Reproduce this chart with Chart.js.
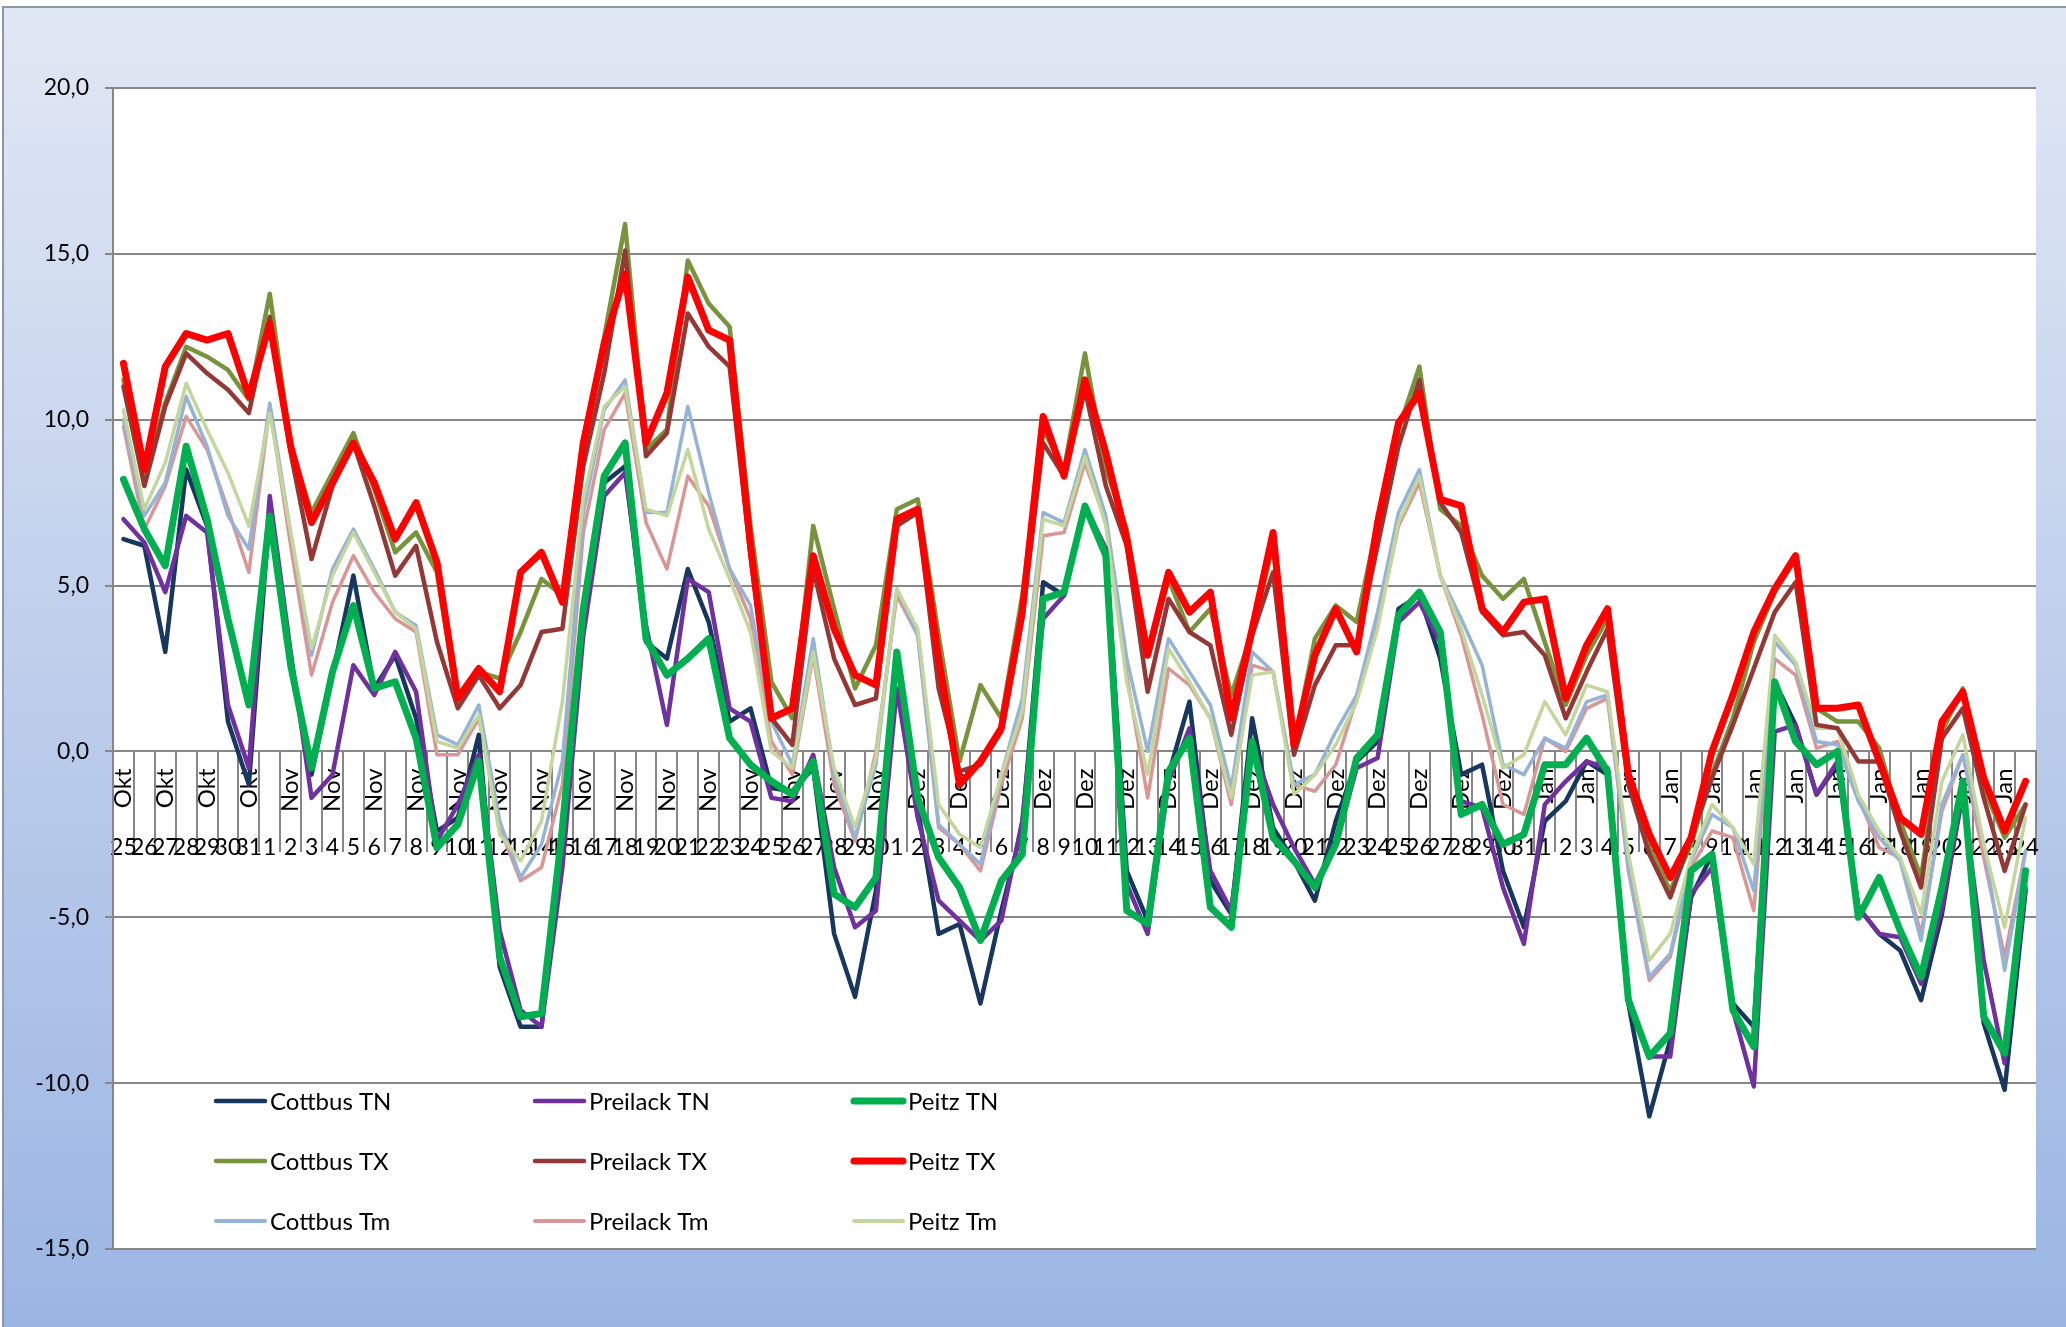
<!DOCTYPE html>
<html>
<head>
<meta charset="utf-8">
<script src="https://cdn.jsdelivr.net/npm/chart.js@4.4.1/dist/chart.umd.min.js"></script>
<style>
  html, body { margin: 0; padding: 0; background: #fff; }
  canvas { display: block; }
</style>
</head>
<body>
<canvas id="chart" width="2066" height="1327"></canvas>
<script>
// categories: day number and month of each reading (25 Okt .. 24 Jan)
const days = [
  '25', '26', '27', '28', '29', '30', '31',
  '1', '2', '3', '4', '5', '6', '7', '8', '9', '10', '11', '12', '13', '14', '15',
  '16', '17', '18', '19', '20', '21', '22', '23', '24', '25', '26', '27', '28', '29', '30',
  '1', '2', '3', '4', '5', '6', '7', '8', '9', '10', '11', '12', '13', '14', '15', '16',
  '17', '18', '19', '20', '21', '22', '23', '24', '25', '26', '27', '28', '29', '30', '31',
  '1', '2', '3', '4', '5', '6', '7', '8', '9', '10', '11', '12', '13', '14', '15', '16',
  '17', '18', '19', '20', '21', '22', '23', '24'
];
const months = [
  'Okt', 'Okt', 'Okt', 'Okt', 'Okt', 'Okt', 'Okt',
  'Nov', 'Nov', 'Nov', 'Nov', 'Nov', 'Nov', 'Nov', 'Nov', 'Nov', 'Nov', 'Nov', 'Nov', 'Nov', 'Nov', 'Nov',
  'Nov', 'Nov', 'Nov', 'Nov', 'Nov', 'Nov', 'Nov', 'Nov', 'Nov', 'Nov', 'Nov', 'Nov', 'Nov', 'Nov', 'Nov',
  'Dez', 'Dez', 'Dez', 'Dez', 'Dez', 'Dez', 'Dez', 'Dez', 'Dez', 'Dez', 'Dez', 'Dez', 'Dez', 'Dez', 'Dez', 'Dez',
  'Dez', 'Dez', 'Dez', 'Dez', 'Dez', 'Dez', 'Dez', 'Dez', 'Dez', 'Dez', 'Dez', 'Dez', 'Dez', 'Dez', 'Dez',
  'Jan', 'Jan', 'Jan', 'Jan', 'Jan', 'Jan', 'Jan', 'Jan', 'Jan', 'Jan', 'Jan', 'Jan', 'Jan', 'Jan', 'Jan', 'Jan',
  'Jan', 'Jan', 'Jan', 'Jan', 'Jan', 'Jan', 'Jan', 'Jan'
];

const yTicks = { min: -15, max: 20, step: 5 };

// minimum temperatures
const cottbusTN = [6.4, 6.2, 3.0, 8.5, 6.8, 0.9, -1.0, 7.3, 2.8, -0.7, 2.3, 5.3,
  1.9, 2.9, 1.0, -2.4, -2.0, 0.5, -6.5, -8.3, -8.3, -2.6, 4.0,
  8.1, 8.6, 3.3, 2.8, 5.5, 3.9, 0.9, 1.3, -1.1, -1.2, -0.5, -5.5,
  -7.4, -4.2, 2.8, -1.7, -5.5, -5.2, -7.6, -4.8, -2.3, 5.1, 4.7,
  7.4, 6.1, -3.6, -5.1, -0.7, 1.5, -3.9, -4.9, 1.0, -2.3, -3.3, -4.5,
  -2.1, -0.3, 0.3, 4.3, 4.7, 2.8, -0.7, -0.4, -3.6, -5.3, -2.1,
  -1.5, -0.3, -0.7, -7.6, -11.0, -8.7, -4.4, -3.1, -7.6, -8.3, 2.1, 0.8,
  -1.3, -0.4, -4.7, -5.5, -6.0, -7.5, -4.9, -1.1, -8.2, -10.2, -4.2];
const preilackTN = [7.0, 6.3, 4.8, 7.1, 6.6, 1.4, -0.5, 7.7, 3.0, -1.4, -0.7, 2.6,
  1.7, 3.0, 1.8, -2.7, -1.6, -0.1, -5.4, -7.8, -8.3, -3.5, 3.5,
  7.7, 8.4, 3.8, 0.8, 5.2, 4.8, 1.3, 0.9, -1.4, -1.5, -0.1, -3.5,
  -5.3, -4.8, 1.9, -2.0, -4.5, -5.1, -5.7, -5.1, -2.1, 4.0, 4.7,
  7.4, 6.1, -4.0, -5.5, -0.9, 0.7, -3.6, -4.8, 0.2, -1.6, -2.9, -4.0,
  -2.8, -0.5, -0.2, 3.9, 4.5, 3.3, -1.5, -1.7, -4.1, -5.8, -1.6,
  -0.9, -0.3, -0.5, -7.4, -9.2, -9.2, -4.3, -3.5, -7.8, -10.1, 0.6, 0.8,
  -1.3, -0.3, -4.7, -5.5, -5.6, -7.0, -4.7, -1.3, -6.3, -9.4, -4.1];
const peitzTN = [8.2, 6.7, 5.6, 9.2, 7.0, 4.0, 1.4, 7.1, 2.6, -0.5, 2.4, 4.4,
  1.9, 2.1, 0.4, -2.9, -2.2, -0.3, -6.2, -8.0, -7.9, -2.3, 4.3,
  8.3, 9.3, 3.4, 2.3, 2.8, 3.4, 0.4, -0.4, -0.9, -1.3, -0.3, -4.3,
  -4.7, -3.8, 3.0, -1.4, -3.2, -4.1, -5.7, -3.9, -3.1, 4.6, 4.8,
  7.4, 5.9, -4.8, -5.2, -0.6, 0.4, -4.7, -5.3, 0.3, -2.6, -3.3, -4.1,
  -2.8, -0.2, 0.5, 4.1, 4.8, 3.6, -1.9, -1.6, -2.8, -2.5, -0.4,
  -0.4, 0.4, -0.6, -7.5, -9.2, -8.5, -3.6, -3.1, -7.8, -8.9, 2.1, 0.3,
  -0.4, 0.0, -5.0, -3.8, -5.4, -6.8, -4.1, -0.9, -8.0, -9.1, -3.6];

// maximum temperatures
const cottbusTX = [11.2, 8.2, 10.5, 12.2, 11.9, 11.5, 10.6, 13.8, 9.2, 7.2, 8.4, 9.6,
  7.9, 6.0, 6.6, 5.4, 1.4, 2.4, 2.2, 3.6, 5.2, 4.7, 9.0,
  12.5, 15.9, 9.1, 9.7, 14.8, 13.5, 12.8, 6.8, 2.1, 1.0, 6.8, 4.3,
  1.9, 3.2, 7.3, 7.6, 3.5, -0.3, 2.0, 1.0, 4.7, 9.7, 8.5,
  12.0, 8.5, 6.7, 2.9, 5.2, 3.6, 4.3, 1.7, 3.6, 6.2, 0.2, 3.4,
  4.4, 3.9, 6.9, 9.7, 11.6, 7.3, 6.8, 5.3, 4.6, 5.2, 3.3,
  1.4, 2.9, 4.0, -0.9, -2.9, -4.2, -2.8, -0.7, 1.0, 3.3, 4.8, 5.8,
  1.3, 0.9, 0.9, 0.1, -2.1, -3.8, 0.6, 1.9, -1.1, -2.6, -1.6];
const preilackTX = [11.0, 8.0, 10.4, 12.0, 11.4, 10.9, 10.2, 13.1, 9.0, 5.8, 8.0, 9.3,
  7.4, 5.3, 6.2, 3.3, 1.3, 2.3, 1.3, 2.0, 3.6, 3.7, 8.6,
  11.4, 15.1, 8.9, 9.6, 13.2, 12.2, 11.6, 5.9, 1.0, 0.2, 5.5, 2.8,
  1.4, 1.6, 6.8, 7.2, 1.9, -0.6, -0.4, 0.6, 4.0, 9.3, 8.3,
  10.9, 8.0, 6.2, 1.8, 4.6, 3.6, 3.2, 0.5, 3.5, 5.4, -0.1, 2.0,
  3.2, 3.2, 6.2, 9.2, 11.2, 7.5, 6.6, 4.2, 3.5, 3.6, 2.9,
  1.0, 2.4, 3.7, -1.0, -3.1, -4.4, -2.6, -0.8, 0.8, 2.5, 4.2, 5.1,
  0.8, 0.7, -0.3, -0.3, -2.4, -4.1, 0.4, 1.3, -1.4, -3.6, -1.6];
const peitzTX = [11.7, 8.5, 11.6, 12.6, 12.4, 12.6, 10.7, 12.9, 9.2, 6.9, 8.1, 9.3,
  8.1, 6.4, 7.5, 5.7, 1.6, 2.5, 1.8, 5.4, 6.0, 4.5, 9.3,
  12.3, 14.4, 9.3, 10.8, 14.3, 12.7, 12.4, 6.2, 1.0, 1.3, 5.9, 3.7,
  2.3, 2.0, 7.0, 7.3, 2.8, -1.0, -0.3, 0.7, 4.2, 10.1, 8.3,
  11.2, 9.0, 6.4, 2.9, 5.4, 4.2, 4.8, 1.0, 3.7, 6.6, 0.2, 2.9,
  4.3, 3.0, 6.9, 9.9, 10.8, 7.6, 7.4, 4.3, 3.6, 4.5, 4.6,
  1.6, 3.2, 4.3, -0.7, -2.5, -3.8, -2.6, 0.0, 1.7, 3.6, 4.9, 5.9,
  1.3, 1.3, 1.4, -0.3, -2.0, -2.5, 0.9, 1.8, -0.8, -2.4, -0.9];

// daily means
const cottbusTm = [10.0, 7.1, 8.1, 10.7, 9.2, 7.1, 6.1, 10.5, 6.6, 2.9, 5.5, 6.7,
  5.5, 4.2, 3.8, 0.5, 0.2, 1.4, -2.1, -3.8, -2.8, -0.3, 7.2,
  10.3, 11.2, 7.2, 7.2, 10.4, 7.8, 5.5, 4.4, 0.9, -0.4, 3.4, -0.7,
  -2.6, -0.4, 4.9, 3.5, -2.2, -2.8, -3.4, -0.7, 1.6, 7.2, 6.9,
  9.1, 7.1, 2.8, 0.0, 3.4, 2.4, 1.4, -1.1, 3.0, 2.4, -1.0, -0.7,
  0.6, 1.7, 4.2, 7.2, 8.5, 5.3, 4.0, 2.6, -0.4, -0.7, 0.4,
  0.1, 1.5, 1.7, -3.5, -6.8, -6.1, -3.3, -1.9, -2.3, -4.2, 3.3, 2.6,
  0.3, 0.2, -1.5, -2.6, -3.3, -5.7, -1.6, -0.1, -2.8, -6.6, -3.0];
const preilackTm = [9.8, 6.7, 8.0, 10.1, 9.1, 7.3, 5.4, 10.4, 6.2, 2.3, 4.5, 5.9,
  4.8, 4.0, 3.6, -0.1, -0.1, 1.0, -2.3, -3.9, -3.5, -1.0, 6.6,
  9.7, 10.8, 6.9, 5.5, 8.3, 7.4, 5.5, 4.0, 0.3, -0.7, 2.9, -1.0,
  -2.7, 0.0, 4.7, 3.5, -2.3, -2.8, -3.6, -1.0, 1.0, 6.5, 6.6,
  8.7, 6.9, 2.3, -1.4, 2.5, 2.0, 1.0, -1.6, 2.6, 2.4, -1.0, -1.2,
  -0.4, 1.6, 3.8, 6.8, 8.1, 5.3, 3.5, 1.1, -1.6, -1.9, 0.4,
  0.0, 1.3, 1.6, -3.6, -6.9, -6.2, -3.5, -2.4, -2.6, -4.8, 2.8, 2.3,
  0.1, 0.3, -1.4, -2.9, -3.2, -5.5, -1.8, -0.1, -3.2, -6.2, -3.0];
const peitzTm = [10.3, 7.3, 8.7, 11.1, 9.7, 8.4, 6.8, 10.2, 6.6, 3.1, 5.3, 6.6,
  5.4, 4.2, 3.7, 0.3, 0.1, 1.1, -2.5, -3.3, -2.1, 1.5, 7.6,
  10.4, 11.0, 7.3, 7.1, 9.1, 6.7, 5.2, 3.6, 0.0, -0.5, 3.0, -0.5,
  -2.3, -0.2, 4.9, 3.7, -1.6, -2.5, -2.9, -0.7, 1.2, 7.0, 6.8,
  8.9, 6.8, 2.1, -0.7, 3.1, 2.1, 1.0, -1.4, 2.3, 2.4, -1.3, -0.7,
  0.2, 1.5, 3.7, 6.9, 8.3, 5.3, 3.7, 1.7, -0.5, -0.1, 1.5,
  0.5, 2.0, 1.8, -3.1, -6.3, -5.5, -3.2, -1.6, -2.3, -3.4, 3.5, 2.7,
  0.7, 0.7, -1.3, -2.4, -3.2, -4.9, -0.9, 0.5, -2.8, -5.3, -2.0];

const FONT = 'Lato, "Open Sans", sans-serif';
const GRID = '#878787';

function series(label, data, color, width, order) {
  return {
    label,
    data,
    borderColor: color,
    backgroundColor: color,
    borderWidth: width,
    order,
    fill: false,
    tension: 0,
    pointRadius: 0,
    pointHoverRadius: 0,
    borderJoinStyle: 'round',
    borderCapStyle: 'round'
  };
}

// axes sitting on the zero line should not take any room in the layout
function flattenAxis(scale) {
  scale.height = 0;
  scale.paddingLeft = 0;
  scale.paddingRight = 0;
}

// page background, outer frame and white plot area
const backgroundPlugin = {
  id: 'frameBackground',
  beforeDraw(chart) {
    const { ctx, chartArea, width, height } = chart;
    ctx.save();
    ctx.fillStyle = '#ffffff';
    ctx.fillRect(0, 0, width, height);
    const grad = ctx.createLinearGradient(0, 7, 0, height);
    grad.addColorStop(0, '#e1e8f4');
    grad.addColorStop(1, '#9bb5e3');
    ctx.fillStyle = grad;
    ctx.fillRect(3, 7, width - 3, height - 7);
    ctx.strokeStyle = '#8c96a8';
    ctx.lineWidth = 2;
    ctx.beginPath();
    ctx.moveTo(3, height);
    ctx.lineTo(3, 7);
    ctx.lineTo(width, 7);
    ctx.stroke();
    ctx.fillStyle = '#ffffff';
    ctx.fillRect(chartArea.left, chartArea.top, chartArea.right - chartArea.left, chartArea.bottom - chartArea.top);
    ctx.restore();
  }
};

// 3 x 3 legend inside the bottom of the plot
const gridLegendPlugin = {
  id: 'gridLegend',
  afterDraw(chart) {
    const { ctx, chartArea } = chart;
    const datasets = chart.data.datasets;
    const colX = [chartArea.left + 157, chartArea.left + 476, chartArea.left + 795];
    const rowY = [chartArea.bottom - 148, chartArea.bottom - 88, chartArea.bottom - 28];
    ctx.save();
    ctx.font = `24px ${FONT}`;
    ctx.textBaseline = 'middle';
    ctx.textAlign = 'left';
    datasets.forEach((ds, index) => {
      const x = colX[index % 3];
      const y = rowY[Math.floor(index / 3)];
      ctx.strokeStyle = ds.borderColor;
      ctx.lineWidth = Math.max(ds.borderWidth, 4);
      ctx.lineCap = 'round';
      ctx.beginPath();
      ctx.moveTo(x - 54, y);
      ctx.lineTo(x - 5, y);
      ctx.stroke();
      ctx.fillStyle = '#000000';
      ctx.fillText(ds.label, x, y + 1);
    });
    ctx.restore();
  }
};

new Chart(document.getElementById('chart'), {
  type: 'line',
  data: {
    labels: days,
    datasets: [
      series('Cottbus TN', cottbusTN, '#17375e', 4.5, 3),
      series('Preilack TN', preilackTN, '#7030a0', 4.5, 2),
      series('Peitz TN', peitzTN, '#00b050', 7, 0),
      series('Cottbus TX', cottbusTX, '#77933c', 4.5, 5),
      series('Preilack TX', preilackTX, '#953735', 4.5, 4),
      series('Peitz TX', peitzTX, '#ff0000', 7, 1),
      series('Cottbus Tm', cottbusTm, '#95b3d7', 3.5, 7),
      series('Preilack Tm', preilackTm, '#d99694', 3.5, 8),
      series('Peitz Tm', peitzTm, '#c3d69b', 3.5, 6)
    ]
  },
  options: {
    responsive: false,
    animation: false,
    layout: { padding: { left: 0, top: 88, right: 30, bottom: 78 } },
    plugins: {
      legend: { display: false },
      tooltip: { enabled: false }
    },
    scales: {
      x: {
        type: 'category',
        position: { y: 0 },
        offset: true,
        afterFit: flattenAxis,
        grid: {
          display: true,
          drawOnChartArea: false,
          drawTicks: true,
          tickLength: 100,
          offset: true,
          color: GRID,
          lineWidth: 2
        },
        border: { display: true, color: GRID, width: 2 },
        ticks: {
          autoSkip: false,
          maxRotation: 0,
          minRotation: 0,
          padding: -18,
          color: '#000000',
          font: { family: FONT, size: 23 }
        }
      },
      xm: {
        type: 'category',
        labels: months,
        position: { y: 0 },
        offset: true,
        afterFit: flattenAxis,
        grid: { display: false, drawTicks: false },
        border: { display: false },
        ticks: {
          autoSkip: false,
          minRotation: 90,
          maxRotation: 90,
          padding: 17,
          color: '#000000',
          font: { family: FONT, size: 24 },
          callback: (value, index) => (index % 2 === 0 ? months[index] : '')
        }
      },
      y: {
        min: yTicks.min,
        max: yTicks.max,
        afterFit: (scale) => { scale.width = 113; },
        grid: { color: GRID, lineWidth: 2, tickLength: 8 },
        border: { color: GRID, width: 2 },
        ticks: {
          stepSize: yTicks.step,
          padding: 16,
          color: '#000000',
          font: { family: FONT, size: 23 },
          callback: (value) => value.toFixed(1).replace('.', ',')
        }
      }
    }
  },
  plugins: [backgroundPlugin, gridLegendPlugin]
});
</script>
</body>
</html>
